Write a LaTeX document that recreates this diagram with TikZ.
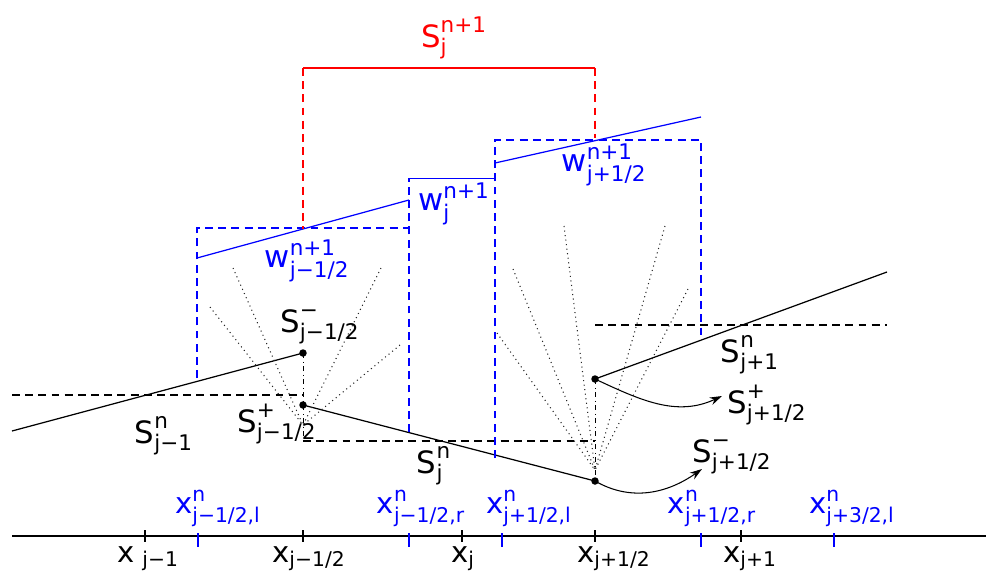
\documentclass[tikz,border=0pt]{standalone}
\usepackage{amsmath}
\usepackage{fontspec}
\setmainfont{DejaVu Sans}
\usetikzlibrary{arrows.meta}
\newcommand{\vsym}[3]{$\text{#1}^{\text{#2}}_{\text{#3}}$}
\newcommand{\vsub}[2]{$\text{#1}_{\text{#2}}$}

\begin{document}
\begin{tikzpicture}[x=0.02cm, y=-0.02cm]
    \tikzstyle{lab}=[inner sep=0pt, anchor=base, font=\fontsize{17.5}{20}\selectfont]
    \tikzstyle{wlab}=[lab, text=blue]
    \tikzstyle{xlab}=[inner sep=0pt, anchor=base, font=\fontsize{16.5}{19}\selectfont]
    \tikzstyle{bxlab}=[xlab, text=blue]
    \tikzstyle{dot}=[circle, fill, inner sep=0pt, minimum size=0.15cm]
    \tikzstyle{avg}=[dash pattern=on 4.5pt off 3pt, line width=0.6pt]
    \tikzstyle{cellbox}=[draw=blue, dash pattern=on 4.5pt off 3pt, line width=0.6pt]
    \tikzstyle{recon}=[line width=0.7pt]
    \tikzstyle{fan}=[dotted, black!85, line width=0.6pt]
    \tikzstyle{jump}=[dash dot, line width=0.5pt]
    \tikzstyle{arr}=[-{Stealth[length=7pt, width=4.5pt]}, line width=0.6pt]

    \useasboundingbox (0,0) rectangle (988,576);

    % axis and grid points
    \draw[line width=1.4pt] (12,536) -- (986,536);
    \foreach \px in {145,303,462,595,741}
        \draw[line width=0.9pt] (\px,530) -- (\px,542);
    \foreach \px in {198,409,502,701,834}
        \draw[blue, line width=0.9pt] (\px,533) -- (\px,547);

    \node[xlab] (xjm1) at (148,562) {\vsub{x\,}{\,j−1}};
    \node[xlab] (xjmh) at (309,562) {\vsub{x}{j−1/2}};
    \node[xlab] (xj)   at (463,562) {\vsub{x}{j}};
    \node[xlab] (xjph) at (614,562) {\vsub{x}{j+1/2}};
    \node[xlab] (xjp1) at (750,562) {\vsub{x}{j+1}};

    \node[bxlab] (xlm) at (218,513) {\vsym{x}{n}{j−1/2,l}};
    \node[bxlab] (xrm) at (421,513) {\vsym{x}{n}{j−1/2,r}};
    \node[bxlab] (xlp) at (529,513) {\vsym{x}{n}{j+1/2,l}};
    \node[bxlab] (xrp) at (712,513) {\vsym{x}{n}{j+1/2,r}};
    \node[bxlab] (xlq) at (852,513) {\vsym{x}{n}{j+3/2,l}};

    % cell averages
    \draw[avg] (12,395) -- (303,395);
    \draw[avg] (303,441) -- (595,441);
    \draw[avg] (595,325) -- (887,325);

    % interface values
    \coordinate (lend) at (12,431);
    \coordinate (rend) at (887,272);
    \node[dot] (smh) at (303,353) {};
    \node[dot] (sph) at (303,405) {};
    \node[dot] (smp) at (595,481) {};
    \node[dot] (spp) at (595,379) {};
    \coordinate (jl) at (303,438);

    \draw[recon] (lend) -- (smh.center);
    \draw[recon] (sph.center) -- (smp.center);
    \draw[recon] (spp.center) -- (rend);
    \draw[jump] (smh.center) -- (jl);
    \draw[jump] (spp.center) -- (smp.center);

    % wave fans
    \coordinate (fl) at (303,425);
    \coordinate (fr) at (595,470);
    \foreach \p in {(210,307),(233,268),(381,268),(400,345)}
        \draw[fan] \p -- (fl);
    \foreach \p in {(497,333),(513,269),(564,226),(665,226),(688,289)}
        \draw[fan] \p -- (fr);

    \node[lab] (snjm1) at (164,443) {\vsym{S}{n}{j−1}};
    \node[lab] (sphl)  at (277,432) {\vsym{S}{+}{j−1/2}};
    \node[lab] (smhl)  at (320,332) {\vsym{S}{−}{j−1/2}};
    \node[lab] (snj)   at (434,473) {\vsym{S}{n}{j}};
    \node[lab] (snjp1) at (750,362) {\vsym{S}{n}{j+1}};
    \node[lab] (sppl)  at (767,413) {\vsym{S}{+}{j+1/2}};
    \node[lab] (smpl)  at (732,462) {\vsym{S}{−}{j+1/2}};

    \coordinate (asp) at (722,396);
    \coordinate (asm) at (702,469);
    \draw[arr] (spp.center) to[out=-25, in=205] (asp);
    \draw[arr] (smp.center) to[out=-30, in=215] (asm);

    % staggered cells
    \draw[cellbox] (197,378) -- (197,228) -- (409,228);
    \draw[cellbox] (409,432) -- (409,178);
    \draw[cellbox] (495,458) -- (495,140) -- (701,140) -- (701,335);
    \draw[blue, line width=0.5pt] (409,178) -- (495,178);
    \draw[blue, line width=0.7pt] (197,258) -- (409,200);
    \draw[blue, line width=0.7pt] (495,163) -- (701,117);

    \node[wlab] (wjm) at (307,267) {\vsym{w}{n+1}{j−1/2}};
    \node[wlab] (wj)  at (454,210) {\vsym{w}{n+1}{j}};
    \node[wlab] (wjp) at (604,171) {\vsym{w}{n+1}{j+1/2}};

    % projected average
    \draw[red, line width=1.4pt] (303,68) -- (595,68);
    \draw[red, dash pattern=on 4.5pt off 3pt, line width=0.6pt] (303,68) -- (303,229);
    \draw[red, dash pattern=on 4.5pt off 3pt, line width=0.6pt] (595,68) -- (595,138);
    \node[lab, text=red] (snew) at (454,47) {\vsym{S}{n+1}{j}};
\end{tikzpicture}
\end{document}
